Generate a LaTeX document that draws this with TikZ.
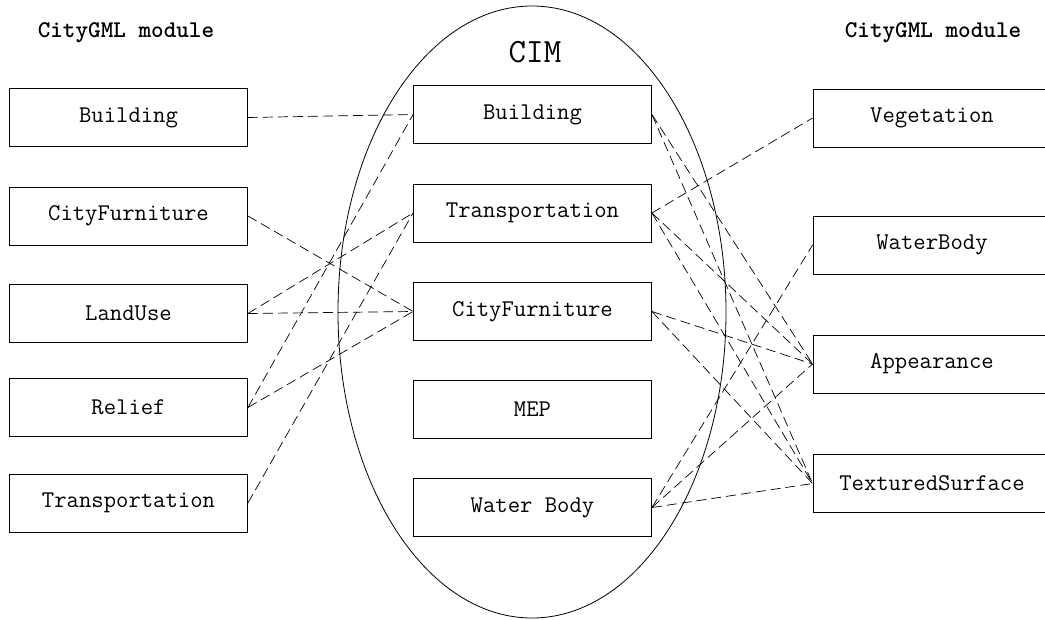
\documentclass[tikz,border=0pt]{standalone}
\usetikzlibrary{shapes}

\begin{document}
\begin{tikzpicture}[x=1pt,y=-1pt,
	module/.style={rectangle, draw, line width=0.9pt, minimum width=238pt, minimum height=58pt, inner sep=0pt, font=\ttfamily\fontsize{24}{28}\selectfont},
	heading/.style={font=\ttfamily\bfseries\fontsize{24}{28}\selectfont},
	link/.style={line width=0.7pt, dash pattern=on 10pt off 5pt}]
				\useasboundingbox (0,0) rectangle (1045,619);
				
				\node[ellipse, draw, line width=0.8pt, minimum width=388pt, minimum height=612pt, inner sep=0pt] (cim) at (532,312) {};
				\node[font=\ttfamily\fontsize{34}{38}\selectfont] (cimname) at (535,52) {CIM};
				
				\node[heading] (hl) at (126,32.5) {CityGML module};
				\node[heading] (hr) at (933,32.5) {CityGML module};
				
				% CityGML, left
				\node[module] (l1) at (128.5,117.5) {Building};
				\node[module] (l2) at (128.5,216) {CityFurniture};
				\node[module] (l3) at (128.5,313.5) {LandUse};
				\node[module] (l4) at (128.5,407.5) {Relief};
				\node[module] (l5) at (128.5,503) {Transportation};
				
				% CIM
				\node[module] (m1) at (532.5,114.5) {Building};
				\node[module] (m2) at (532.5,213) {Transportation};
				\node[module] (m3) at (532.5,311.5) {CityFurniture};
				\node[module] (m4) at (532.5,409.5) {MEP};
				\node[module] (m5) at (532.5,507.5) {Water Body};
				
				% CityGML, right
				\node[module] (r1) at (932,118) {Vegetation};
				\node[module] (r2) at (932,245) {WaterBody};
				\node[module] (r3) at (932,364) {Appearance};
				\node[module] (r4) at (932,483.5) {TexturedSurface};
				
				\draw[link] (l1.east) -- (m1.west);
				\draw[link] (l2.east) -- (m3.west);
				\draw[link] (l3.east) -- (m2.west);
				\draw[link] (l3.east) -- (m3.west);
				\draw[link] (l4.east) -- (m1.west);
				\draw[link] (l4.east) -- (m3.west);
				\draw[link] (l5.east) -- (m2.west);
				
				\draw[link] (m1.east) -- (r3.west);
				\draw[link] (m1.east) -- (r4.west);
				\draw[link] (m2.east) -- (r1.west);
				\draw[link] (m2.east) -- (r3.west);
				\draw[link] (m2.east) -- (r4.west);
				\draw[link] (m3.east) -- (r3.west);
				\draw[link] (m3.east) -- (r4.west);
				\draw[link] (m5.east) -- (r2.west);
				\draw[link] (m5.east) -- (r3.west);
				\draw[link] (m5.east) -- (r4.west);
			\end{tikzpicture}
\end{document}
